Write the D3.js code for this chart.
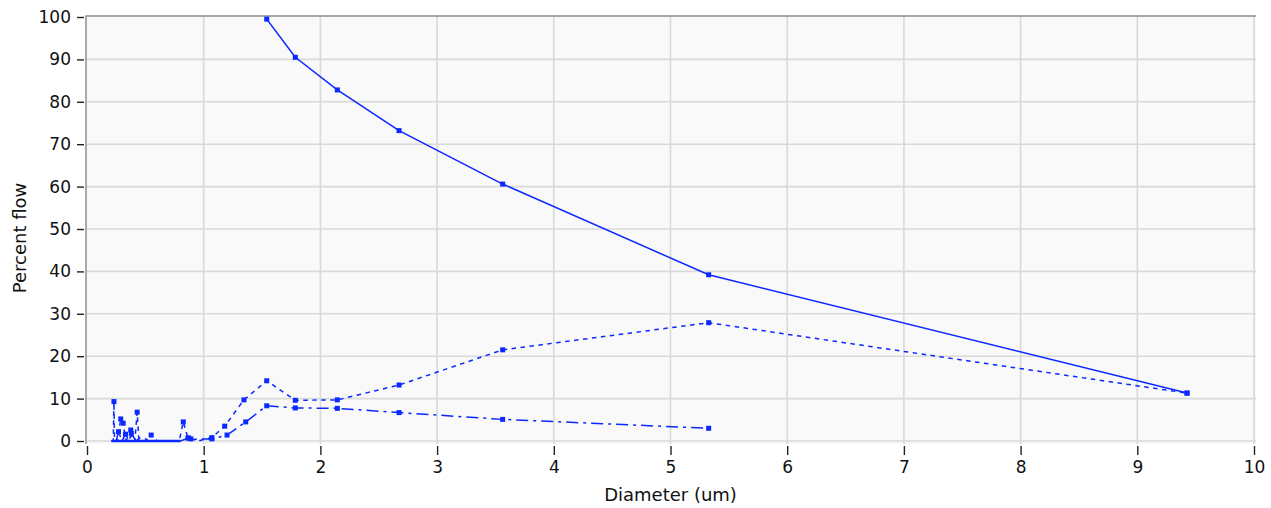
<!DOCTYPE html>
<html>
<head>
<meta charset="utf-8">
<script src="https://cdn.jsdelivr.net/npm/d3@7/dist/d3.min.js"></script>
<style>
  html, body { margin: 0; padding: 0; background: #ffffff; }
  svg { display: block; font-family: "DejaVu Sans", Verdana, sans-serif; }
</style>
</head>
<body>
<svg id="chart" width="1271" height="508"></svg>
<script>
// Cumulative percent flow by pore diameter (solid line)
const cumDiameter = [1.54, 1.785, 2.145, 2.674, 3.562, 5.327, 9.426];
const cumFlow     = [99.5, 90.5, 82.8, 73.2, 60.6, 39.2, 11.3];

// Incremental flow distribution (short dashes)
const incDiameter = [0.21, 0.225, 0.231, 0.236, 0.26, 0.289, 0.31, 0.33, 0.355, 0.375, 0.39, 0.41, 0.43, 0.445, 0.5, 0.55, 0.6, 0.79, 0.825, 0.865, 0.89, 0.95, 1.07, 1.18, 1.345, 1.54, 1.785, 2.145, 2.674, 3.562, 5.327, 9.426];
const incFlow     = [0,    0,     9.3,   0,     0,    5.2,   4.2,  0.5,  0,     2.6,   0,    0,    6.8,  0,     0,   1.4,  0,   0,    4.5,   0.7,   0.5,  0,    0.8,  3.5,  9.7,   14.2, 9.6,   9.7,   13.2,  21.5,  27.9,  11.3];

// Second distribution (dash-dot)
const distDiameter = [0.21, 0.25, 0.27, 0.3, 0.33, 0.36, 0.38, 0.42, 0.46, 0.55, 0.8, 0.87, 0.9, 1.07, 1.2, 1.36, 1.54, 1.785, 2.145, 2.674, 3.562, 5.327];
const distFlow     = [0,    0,    2.2,  0,   1.6,  0,    1.8,  0,    0.9,  0,    0,   0.7,  0.4, 0.5,  1.4, 4.5,  8.3,  7.8,   7.7,   6.7,   5.1,   3.0];

// Which points carry a square marker
const incMarked  = [0.231, 0.289, 0.31, 0.375, 0.43, 0.55, 0.825, 0.865, 0.89, 1.07, 1.18, 1.345, 1.54, 1.785, 2.145, 2.674, 3.562, 5.327, 9.426];
const distMarked = [0.27, 0.33, 0.38, 0.87, 1.07, 1.2, 1.36, 1.54, 1.785, 2.145, 2.674, 3.562, 5.327];

const xTicks = [0, 1, 2, 3, 4, 5, 6, 7, 8, 9, 10];
const yTicks = [0, 10, 20, 30, 40, 50, 60, 70, 80, 90, 100];

const blue = "#0a28ff";
const svg = d3.select("#chart");

const x = d3.scaleLinear().domain([0, 10]).range([87, 1254]);
const y = d3.scaleLinear().domain([0, 100]).range([441, 17]);

const plotLeft = 86, plotTop = 16, plotRight = 1256, plotBottom = 444;

// plot background
svg.append("rect")
  .attr("x", plotLeft).attr("y", plotTop)
  .attr("width", plotRight - plotLeft).attr("height", plotBottom - plotTop)
  .attr("fill", "#f9f9f9");

// grid
svg.append("g").selectAll("line").data(xTicks.filter(d => d > 0)).join("line")
  .attr("x1", d => x(d)).attr("x2", d => x(d))
  .attr("y1", plotTop).attr("y2", plotBottom)
  .attr("stroke", "#d9d9d9").attr("stroke-width", 1.6);
svg.append("g").selectAll("line").data(yTicks.filter(d => d < 100)).join("line")
  .attr("x1", plotLeft).attr("x2", plotRight)
  .attr("y1", d => y(d)).attr("y2", d => y(d))
  .attr("stroke", "#d9d9d9").attr("stroke-width", 1.6);

// sunken frame edges
svg.append("path")
  .attr("d", `M${plotLeft},${plotBottom}V${plotTop}H${plotRight}`)
  .attr("fill", "none").attr("stroke", "#8f8f8f").attr("stroke-width", 1.5);

// axes
const yAxis = svg.append("g").attr("transform", "translate(84,0)")
  .call(d3.axisLeft(y).tickValues(yTicks).tickSize(7).tickPadding(6).tickSizeOuter(0));
const xAxis = svg.append("g").attr("transform", `translate(0,${plotBottom + 2})`)
  .call(d3.axisBottom(x).tickValues(xTicks).tickSize(9).tickPadding(6).tickSizeOuter(0));
[yAxis, xAxis].forEach(a => {
  a.select(".domain").remove();
  a.selectAll(".tick line").attr("stroke", "#222").attr("stroke-width", 1.4);
  a.selectAll(".tick text").attr("fill", "#111").style("font-size", "17px")
    .style("font-family", "'DejaVu Sans', Verdana, sans-serif");
});

// axis titles
svg.append("text")
  .attr("x", x(5)).attr("y", 501)
  .attr("text-anchor", "middle")
  .style("font-size", "18px").attr("fill", "#111")
  .text("Diameter (um)");
svg.append("text")
  .attr("transform", `translate(26,238) rotate(-90)`)
  .attr("text-anchor", "middle")
  .style("font-size", "18px").attr("fill", "#111")
  .text("Percent flow");

// series
const line = d3.line().x(d => x(d[0])).y(d => y(d[1]));
const series = [
  { xs: cumDiameter,  ys: cumFlow,  dash: null,           marked: cumDiameter },
  { xs: incDiameter,  ys: incFlow,  dash: "4.5,4.5",      marked: incMarked },
  { xs: distDiameter, ys: distFlow, dash: "12,5,3,5",     marked: distMarked }
];

series.forEach(s => {
  const pts = s.xs.map((d, i) => [d, s.ys[i]]);
  svg.append("path")
    .datum(pts)
    .attr("d", line)
    .attr("fill", "none")
    .attr("stroke", blue)
    .attr("stroke-width", 1.5)
    .attr("stroke-dasharray", s.dash);
  svg.append("g").selectAll("rect")
    .data(pts.filter(p => s.marked.includes(p[0])))
    .join("rect")
    .attr("x", p => x(p[0]) - 2.5).attr("y", p => y(p[1]) - 2.5)
    .attr("width", 5).attr("height", 5)
    .attr("fill", blue);
});

// solid baseline where the small-diameter distributions sit at zero
svg.append("path")
  .datum([[0.21, 0], [0.8, 0]])
  .attr("d", line)
  .attr("stroke", blue).attr("stroke-width", 2.5);
</script>
</body>
</html>
